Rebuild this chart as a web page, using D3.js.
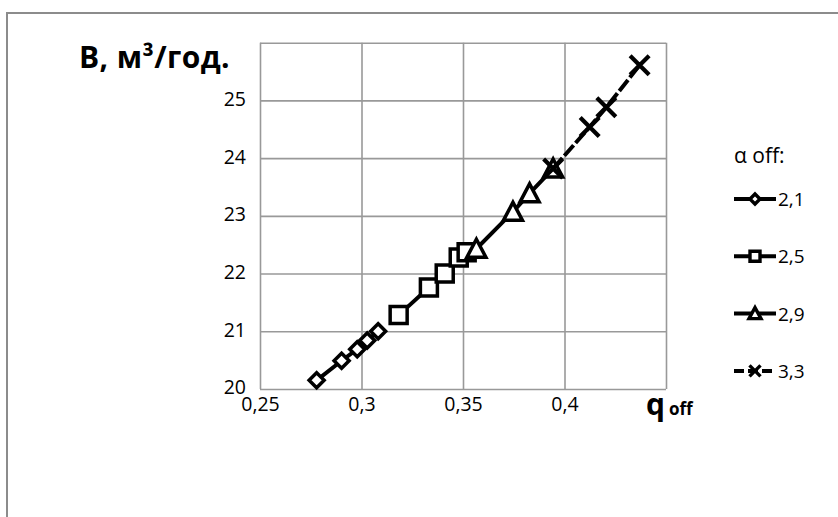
<!DOCTYPE html>
<html><head><meta charset="utf-8">
<script src="https://cdn.jsdelivr.net/npm/d3@7"></script>
<style>body{margin:0;background:#fff}svg{display:block}text{font-family:"Open Sans",sans-serif;fill:#000}</style>
</head><body><svg id="c" width="838" height="517"></svg>
<script>
const seriesNames = ["2,1","2,5","2,9","3,3"];
const qDiamond = [0.2779,0.2902,0.2979,0.3028,0.3082];
const bDiamond = [20.15,20.49,20.69,20.84,21.00];
const qSquare = [0.3183,0.3332,0.3410,0.3479,0.3518];
const bSquare = [21.28,21.76,22.00,22.28,22.37];
const qTriangle = [0.3566,0.3746,0.3828,0.3944];
const bTriangle = [22.43,23.07,23.39,23.82];
const qCross = [0.3944,0.4124,0.4206,0.4370];
const bCross = [23.82,24.54,24.88,25.61];
const xTicks = [0.25,0.3,0.35,0.4,0.45];
const xTickLabels = ["0,25","0,3","0,35","0,4",""];
const yTicks = [20,21,22,23,24,25,26];
const yTickLabels = ["20","21","22","23","24","25",""];

const svg = d3.select("#c");
svg.append("path").attr("d","M7,517 L7,13 L838,13").attr("fill","none").attr("stroke","#8c8c8c").attr("stroke-width",2);

const x = d3.scaleLinear().domain([0.25,0.45]).range([260,666]);
const y = d3.scaleLinear().domain([20,26]).range([389,42.7]);

const gx = svg.append("g").attr("transform","translate(0,389)")
  .call(d3.axisBottom(x).tickValues(xTicks).tickSize(-(389-42.7)).tickFormat(""));
const gy = svg.append("g").attr("transform","translate(260,0)")
  .call(d3.axisLeft(y).tickValues(yTicks).tickSize(-(666-260)).tickFormat(""));
[gx,gy].forEach(g=>{g.select(".domain").remove();g.selectAll("line").attr("stroke","#999").attr("stroke-width",1.6);});

const lx = svg.append("g").attr("transform","translate(0,389)")
  .call(d3.axisBottom(x).tickValues(xTicks).tickSize(0).tickPadding(8).tickFormat((d,i)=>xTickLabels[i]));
const ly = svg.append("g").attr("transform","translate(260,0)")
  .call(d3.axisLeft(y).tickValues(yTicks).tickSize(0).tickPadding(14).tickFormat((d,i)=>yTickLabels[i]));
[lx,ly].forEach(g=>{g.select(".domain").remove();g.selectAll("text").attr("font-family","'Open Sans',sans-serif").attr("font-size",19.5).attr("fill","#000");});
ly.selectAll("text").attr("dy","0.25em");

svg.append("text").attr("x",79).attr("y",68).attr("font-size",30).attr("font-weight","bold").attr("letter-spacing",0.4).text("B, м³/год.");
const xt = svg.append("text").attr("x",646).attr("y",415).attr("font-weight","bold");
xt.append("tspan").attr("font-size",30).text("q");
xt.append("tspan").attr("font-size",17).attr("dx",4).text("off");

const series = [
  {name:seriesNames[0], q:qDiamond, b:bDiamond, sym:"diamond", dash:null},
  {name:seriesNames[1], q:qSquare, b:bSquare, sym:"square", dash:null},
  {name:seriesNames[2], q:qTriangle, b:bTriangle, sym:"triangle", dash:null},
  {name:seriesNames[3], q:qCross, b:bCross, sym:"cross", dash:"14,3"}
];
function markerPath(sym, s){
  const h=s/2;
  if(sym==="diamond") return `M0,${-h}L${h},0L0,${h}L${-h},0Z`;
  if(sym==="square") return `M${-h},${-h}H${h}V${h}H${-h}Z`;
  if(sym==="triangle") return `M0,${-h-1}L${h+1},${h}H${-h-1}Z`;
  return `M${-h},${-h}L${h},${h}M${h},${-h}L${-h},${h}`;
}
const line = d3.line().x(d=>x(d[0])).y(d=>y(d[1]));
series.forEach(s=>{
  const pts = s.q.map((q,i)=>[q,s.b[i]]);
  const g = svg.append("g");
  g.append("path").attr("d",line(pts)).attr("fill","none").attr("stroke","#000").attr("stroke-width",4)
    .attr("stroke-dasharray",s.dash);
  const size = s.sym==="diamond"?15:(s.sym==="cross"?19:17);
  g.selectAll("path.m").data(pts).join("path").attr("class","m")
    .attr("transform",d=>`translate(${x(d[0])},${y(d[1])})`)
    .attr("d",markerPath(s.sym,size))
    .attr("fill",s.sym==="cross"?"none":"#fff").attr("stroke","#000")
    .attr("stroke-width",s.sym==="cross"?4.2:3.5);
});

svg.append("text").attr("x",734).attr("y",163).attr("font-size",21).text("α off:");
const leg = svg.append("g");
series.forEach((s,i)=>{
  const yy = 199 + i*57.3;
  const g = leg.append("g").attr("transform",`translate(0,${yy})`);
  g.append("line").attr("x1",734).attr("x2",776).attr("y1",0).attr("y2",0).attr("stroke","#000").attr("stroke-width",4)
    .attr("stroke-dasharray",s.dash?"10,4":null);
  g.append("path").attr("transform","translate(755,0)").attr("d",markerPath(s.sym,s.sym==="cross"?11:10))
    .attr("fill",s.sym==="cross"?"none":"#fff").attr("stroke","#000").attr("stroke-width",3.4);
  g.append("text").attr("x",778).attr("y",7).attr("font-size",19).text(s.name);
});
</script></body></html>
